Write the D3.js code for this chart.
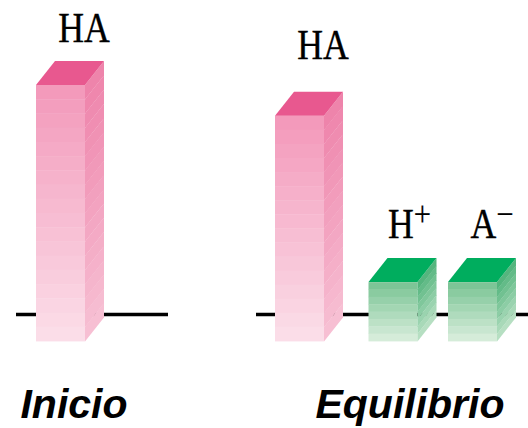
<!DOCTYPE html>
<html>
<head>
  <meta charset="utf-8">
  <title>Ionización de un ácido débil</title>
  <style>
    body { margin: 0; background: white; }
    .species { font-family: "Liberation Serif", "Times New Roman", serif; font-size: 42px; fill: black; stroke: black; stroke-width: 0.4px; }
    .group-label { font-family: "Liberation Sans", Arial, sans-serif; font-size: 41px; font-weight: bold; font-style: italic; fill: black; }
  </style>
  <script src="https://d3js.org/d3.v7.min.js"></script>
</head>
<body>
  <div id="chart"></div>
  <script>
    // Data (relative amounts, HA at start = 1)
    const groups = ["Inicio", "Equilibrio"];
    const speciesBase = [["HA"], ["HA", "H", "A"]];
    const speciesCharge = [[""], ["", "+", "\u2212"]];
    const amounts = [[1.00], [0.88, 0.23, 0.23]];
    const kinds = [["acid"], ["acid", "ion", "ion"]];

    // Layout
    const width = 528, height = 428;
    const depth = {x: 19, y: 24};
    const groupSpan = [[36, 85], [275, 497]];
    const barShift = [[0], [0, 7, 0]];
    const lineSpan = [[16, 168], [256, 528]];
    const labelNudge = [[[-1, 43]], [[-1, 57], [-8, 44], [-5, 44]]];
    const groupLabelX = [74, 410];

    const palette = {
      acid: {top: "#e8588f", frontTop: "#f39abb", frontBot: "#fbdde8", sideTop: "#ee84ab", sideBot: "#f7bfd3", band: 14},
      ion:  {top: "#00ad5e", frontTop: "#7dc597", frontBot: "#d5ecd9", sideTop: "#55b57e", sideBot: "#b6dfc2", band: 7.3}
    };

    const svg = d3.select("#chart")
      .append("svg")
        .attr("width", width)
        .attr("height", height);

    const y = d3.scaleLinear().domain([0, 1]).range([341, 85]);
    const baseY = y(0) - depth.y - 2.5;

    // baselines
    svg.selectAll(".baseline")
      .data(lineSpan)
      .enter().append("line")
        .attr("x1", d => d[0])
        .attr("x2", d => d[1])
        .attr("y1", baseY)
        .attr("y2", baseY)
        .attr("stroke", "black")
        .attr("stroke-width", 3.6);

    groups.forEach((g, gi) => {
      const x = d3.scaleBand()
        .domain(speciesBase[gi].map((s, i) => s + i))
        .range(groupSpan[gi])
        .paddingInner(speciesBase[gi].length > 1 ? 0.4335 : 0);

      speciesBase[gi].forEach((s, i) => {
        const c = palette[kinds[gi][i]];
        const x0 = x(s + i) + barShift[gi][i], bw = x.bandwidth(), x1 = x0 + bw;
        const yTop = y(amounts[gi][i]), yBot = y(0);
        const h = yBot - yTop;
        const n = Math.max(2, Math.round(h / c.band));
        const bandY = d3.scaleLinear().domain([0, n]).range([yTop, yBot]);
        const frontCol = d3.interpolateRgb(c.frontTop, c.frontBot);
        const sideCol = d3.interpolateRgb(c.sideTop, c.sideBot);
        const bar = svg.append("g");

        d3.range(n).forEach(k => {
          const a = bandY(k), b = bandY(k + 1);
          bar.append("rect")
            .attr("x", x0)
            .attr("y", a)
            .attr("width", bw)
            .attr("height", b - a + 0.4)
            .attr("fill", frontCol(k / (n - 1)));
          bar.append("path")
            .attr("d", `M${x1},${a}L${x1 + depth.x},${a - depth.y}L${x1 + depth.x},${b - depth.y + 0.4}L${x1},${b + 0.4}Z`)
            .attr("fill", sideCol(k / (n - 1)));
        });

        // top face
        bar.append("path")
          .attr("d", `M${x0},${yTop}L${x0 + depth.x},${yTop - depth.y}L${x1 + depth.x},${yTop - depth.y}L${x1},${yTop}Z`)
          .attr("fill", c.top);

        // species label
        const nudge = labelNudge[gi][i];
        const t = svg.append("text")
          .attr("class", "species")
          .attr("text-anchor", "middle")
          .attr("transform", `translate(${x1 + nudge[0]},${yTop - nudge[1]}) scale(0.85,1)`);
        t.append("tspan").text(s);
        if (speciesCharge[gi][i]) {
          t.append("tspan")
            .style("font-size", "36px")
            .style("stroke-width", "0.2px")
            .attr("dy", -12)
            .text(speciesCharge[gi][i]);
        }
      });
    });

    svg.selectAll(".group-label")
      .data(groups)
      .enter().append("text")
        .attr("class", "group-label")
        .attr("text-anchor", "middle")
        .attr("x", (d, i) => groupLabelX[i])
        .attr("y", 418)
        .text(d => d);
  </script>
</body>
</html>
